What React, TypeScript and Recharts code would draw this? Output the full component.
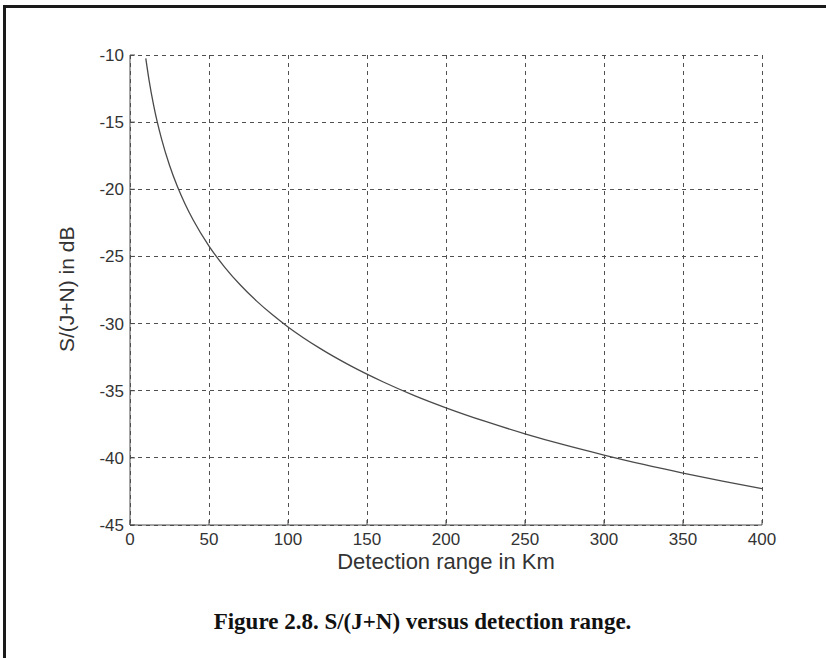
import { LineChart, Line, XAxis, YAxis, CartesianGrid } from 'recharts';

// Detection range (km) and S/(J+N) in dB
const rangesKm = [10, 12, 15, 20, 25, 30, 35, 40, 50, 60, 70, 80, 90, 100, 120, 140, 160, 180, 200, 225, 250, 275, 300, 325, 350, 375, 400];
const snrDb = [-10.25, -11.83, -13.77, -16.27, -18.21, -19.79, -21.13, -22.29, -24.23, -25.81, -27.15, -28.31, -29.33, -30.25, -31.83, -33.17, -34.33, -35.36, -36.27, -37.29, -38.21, -39.04, -39.79, -40.49, -41.13, -41.73, -42.29];

const xTicks = [0, 50, 100, 150, 200, 250, 300, 350, 400];
const yTicks = [-45, -40, -35, -30, -25, -20, -15, -10];

const AXIS = '#4a4a4a';
const TEXT = '#333';
const FONT = '"Liberation Sans", Arial, sans-serif';
const tickText = { fontSize: 17, fontFamily: FONT, fill: TEXT };

const data = rangesKm.map((r, i) => ({ r, snr: snrDb[i] }));

// MATLAB-style ticks: short marks pointing into the plot
const BottomTick = (p: any) => (
  <g>
    <line x1={p.x} x2={p.x} y1={p.y} y2={p.y - 5} stroke={AXIS} />
    <text x={p.x} y={p.y + 20} textAnchor="middle" style={tickText}>
      {p.payload.value}
    </text>
  </g>
);
const TopTick = (p: any) => <line x1={p.x} x2={p.x} y1={p.y} y2={p.y + 5} stroke={AXIS} />;
const LeftTick = (p: any) => (
  <g>
    <line x1={p.x} x2={p.x + 5} y1={p.y} y2={p.y} stroke={AXIS} />
    <text x={p.x - 6} y={p.y + 6} textAnchor="end" style={tickText}>
      {p.payload.value}
    </text>
  </g>
);
const RightTick = (p: any) => <line x1={p.x} x2={p.x - 5} y1={p.y} y2={p.y} stroke={AXIS} />;

export default function App() {
  return (
    <div style={{ position: 'absolute', left: 0, top: 0, width: 826, height: 658, background: '#fff' }}>
      <div
        style={{
          position: 'absolute',
          left: 3,
          top: 5,
          width: 823,
          height: 653,
          borderTop: '3px solid #1a1a1a',
          borderLeft: '3px solid #1a1a1a',
          boxSizing: 'border-box',
        }}
      />
      <LineChart
        width={826}
        height={658}
        data={data}
        margin={{ top: 55, right: 64, bottom: 93, left: 0 }}
        style={{ position: 'absolute', left: 0, top: 0 }}
      >
        <CartesianGrid
          stroke="#505050"
          strokeDasharray="4 4"
          shapeRendering="crispEdges"
          horizontalValues={yTicks}
          verticalValues={xTicks}
        />
        <XAxis
          dataKey="r"
          type="number"
          domain={[0, 400]}
          ticks={xTicks}
          height={40}
          stroke={AXIS}
          tickLine={false}
          tickSize={0}
          tickMargin={0}
          tick={BottomTick}
          interval={0}
          label={{ value: 'Detection range in Km', position: 'insideBottom', offset: -4, fontSize: 22, fill: TEXT, fontFamily: FONT }}
        />
        <XAxis
          xAxisId="top"
          orientation="top"
          dataKey="r"
          type="number"
          domain={[0, 400]}
          ticks={xTicks}
          height={0}
          stroke={AXIS}
          tickLine={false}
          tickSize={0}
          tickMargin={0}
          tick={TopTick}
          interval={0}
        />
        <YAxis
          type="number"
          domain={[-45, -10]}
          ticks={yTicks}
          width={130}
          stroke={AXIS}
          tickLine={false}
          tickSize={0}
          tickMargin={0}
          tick={LeftTick}
          interval={0}
          label={{ value: 'S/(J+N) in dB', angle: -90, position: 'insideLeft', offset: 67, dy: 62, fontSize: 21, fill: TEXT, fontFamily: FONT }}
        />
        <YAxis
          yAxisId="right"
          orientation="right"
          type="number"
          domain={[-45, -10]}
          ticks={yTicks}
          width={0}
          stroke={AXIS}
          tickLine={false}
          tickSize={0}
          tickMargin={0}
          tick={RightTick}
          interval={0}
        />
        <Line type="monotone" dataKey="snr" stroke="#4a4a4a" strokeWidth={1.3} dot={false} isAnimationActive={false} />
      </LineChart>
      <div
        style={{
          position: 'absolute',
          left: 0,
          width: 845,
          top: 608,
          textAlign: 'center',
          fontFamily: '"Liberation Serif", "Times New Roman", serif',
          fontWeight: 'bold',
          fontSize: 23,
          lineHeight: '28px',
          color: '#111',
        }}
      >
        Figure 2.8. S/(J+N) versus detection range.
      </div>
    </div>
  );
}
